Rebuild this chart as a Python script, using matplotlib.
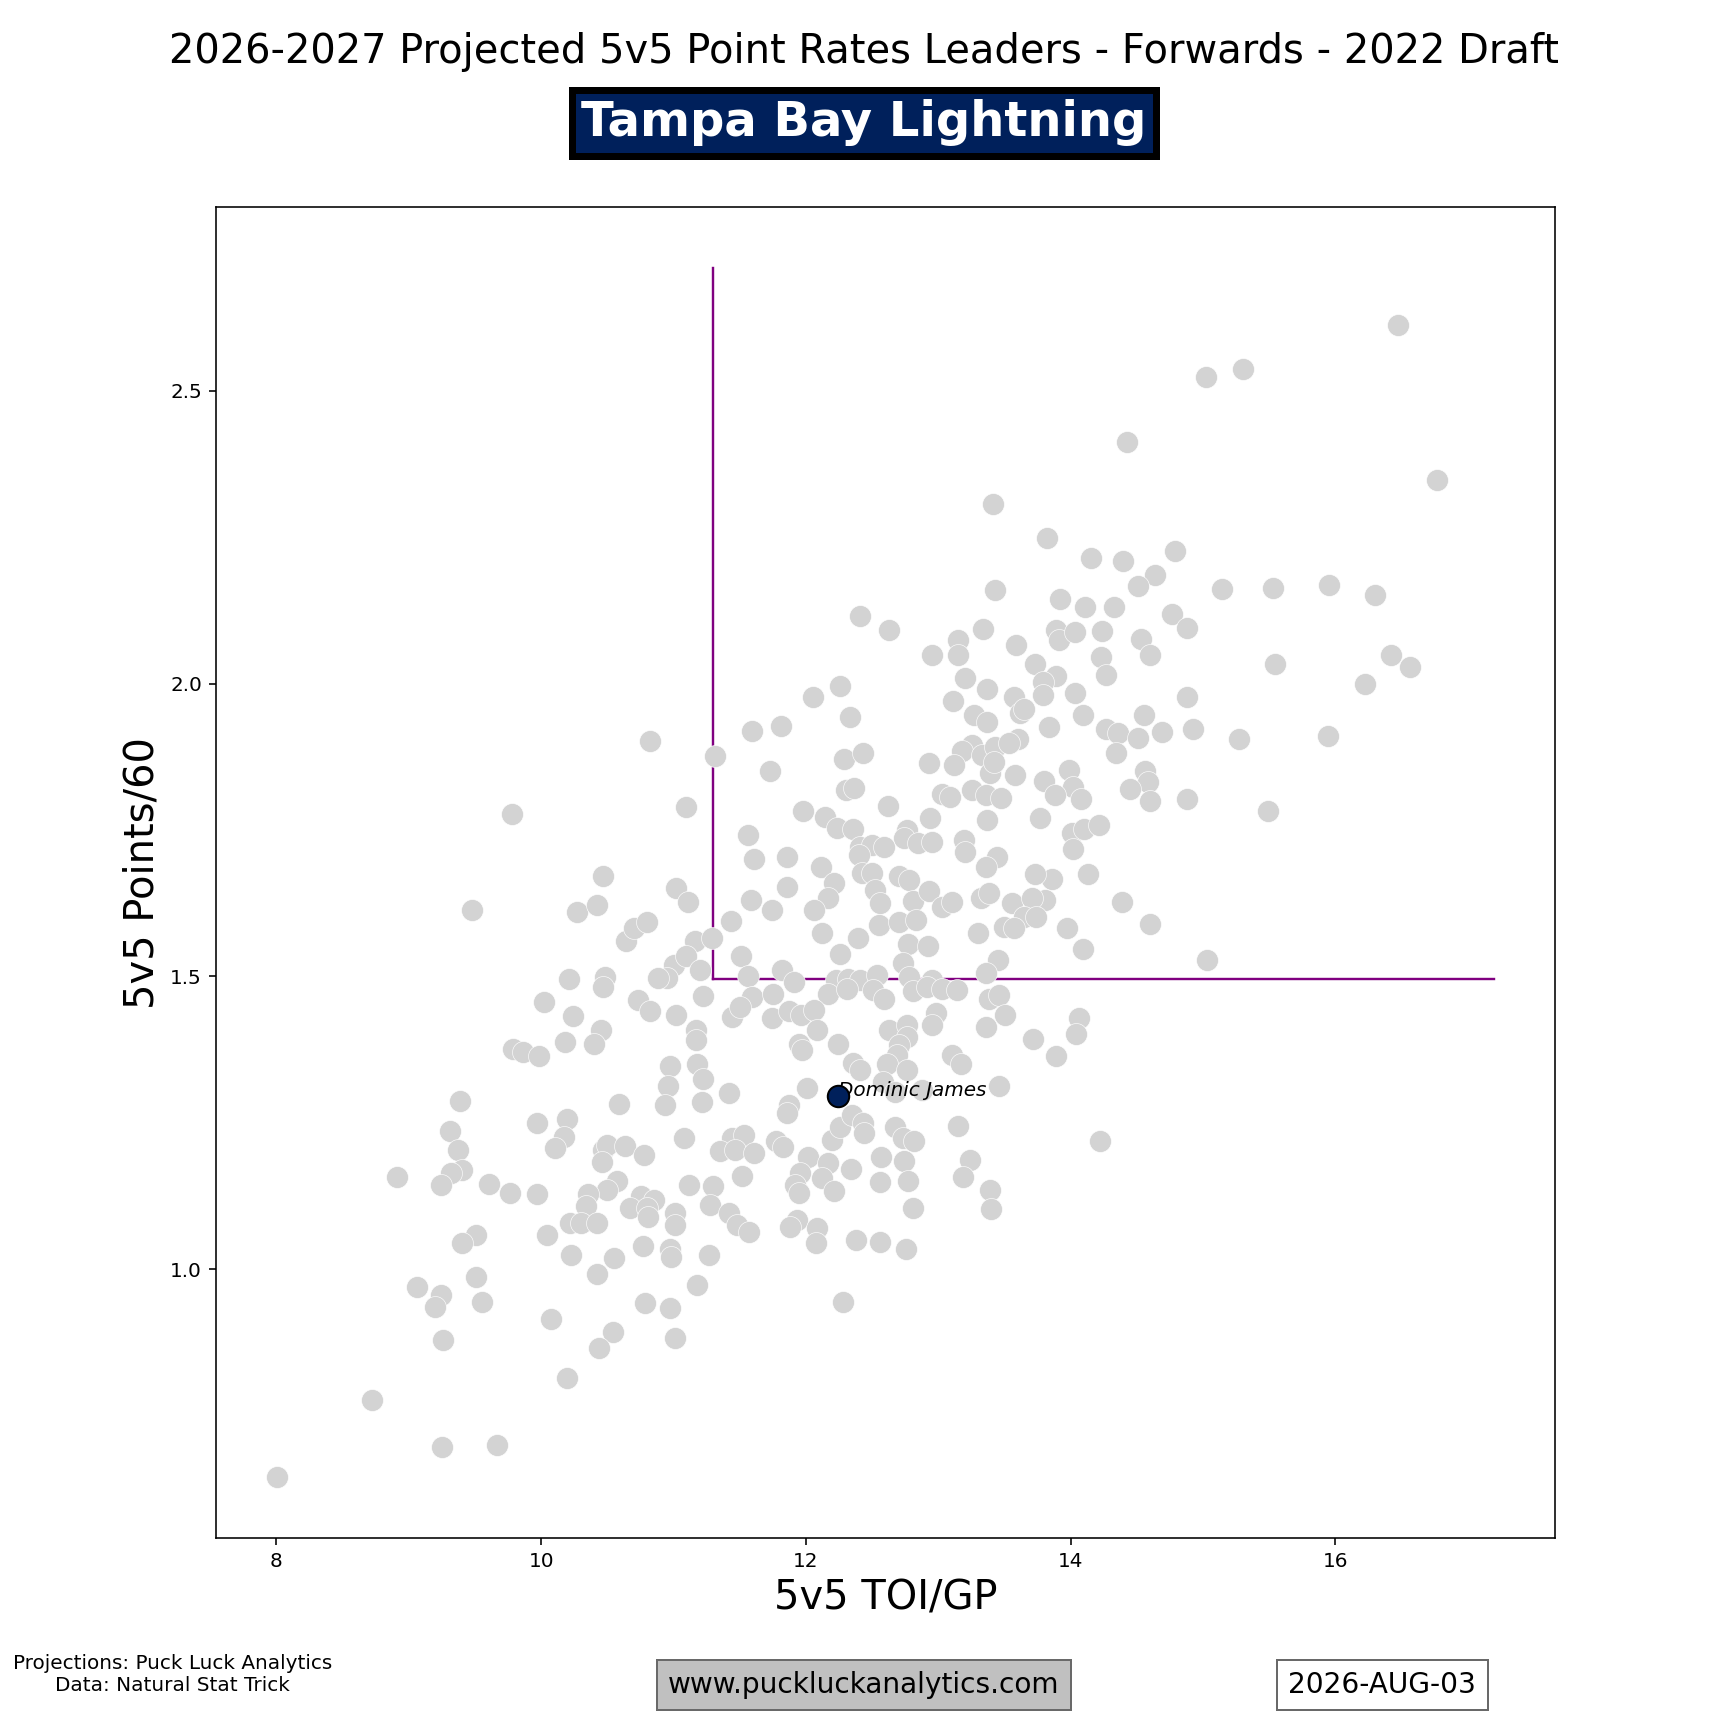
import numpy as np
import matplotlib
matplotlib.use('Agg')
import matplotlib.pyplot as plt


# League forwards: 5v5 TOI/GP and projected 5v5 Points/60
toi = [
    13.41, 13.43, 12.405, 12.63, 13.15, 13.34, 12.95, 13.15, 13.59, 13.73, 13.205, 13.37, 12.26, 12.05, 13.11, 13.57,
    16.47, 15.02, 15.30, 14.425, 16.77, 13.82, 14.15, 14.395, 14.79, 14.64, 14.51, 15.14, 15.53, 15.95, 16.30, 13.92,
    14.11, 14.33, 14.765, 14.88, 13.89, 13.91, 14.03, 14.24, 14.53, 14.60, 14.23, 14.27, 15.545, 16.42, 16.56, 16.22,
    13.89, 13.79, 13.79, 14.03, 14.88,
    14.09, 13.835, 14.27, 14.36, 14.55, 14.51, 14.69, 14.92, 15.27, 15.945, 14.34, 13.99, 13.80, 14.02, 13.88, 14.075,
    14.56, 14.58, 14.45, 14.60, 14.88, 15.49, 13.77, 14.01, 14.10, 14.21, 14.02, 13.855, 14.13, 13.805, 14.39, 13.97,
    14.60, 14.09, 15.03, 14.06, 14.04, 13.89,
    12.335, 11.59, 11.81, 13.27, 13.37, 13.62, 13.65, 11.31, 11.725, 12.285, 12.43, 12.93, 13.255, 13.18, 13.33, 13.12,
    13.43, 13.60, 13.53, 13.39, 13.42, 13.58, 12.30, 12.36, 13.03, 13.09, 13.255, 13.36, 13.47, 13.37, 11.09, 12.62,
    11.975, 12.14, 12.235, 12.355, 12.94, 12.764, 11.56, 12.74, 12.85, 12.95, 13.19, 13.205, 12.41, 12.50, 12.59, 12.40,
    11.61, 11.86, 13.44, 13.36, 12.11, 12.21, 12.42, 12.50, 12.70, 12.78, 13.73, 11.02, 11.11, 11.856, 11.584, 11.747,
    12.17, 12.06, 12.52, 12.56, 12.81, 12.93, 13.03, 13.10, 13.32, 13.38, 13.56, 13.71, 13.65, 13.74, 13.495, 13.575,
    11.43, 12.55, 12.70, 12.83, 13.30, 12.12, 12.39, 11.16, 11.29, 12.77, 12.92, 12.26, 11.51, 11.00, 11.09, 11.20,
    10.95, 12.73, 13.45, 13.36, 11.56, 11.82, 11.91, 12.23, 12.32, 12.41, 12.54, 12.78, 12.95, 11.22, 11.59, 11.75,
    12.17, 12.31, 12.51, 12.59, 12.81, 12.915, 13.03, 13.14, 13.38, 13.46, 11.02, 11.44, 11.50, 11.74, 11.87, 11.96,
    12.06, 12.08, 11.17, 11.17, 13.50, 13.36, 12.98, 12.95, 12.625, 12.76, 12.76, 12.70, 12.69, 13.715, 11.95, 11.97,
    12.24, 13.10, 13.17, 12.355, 12.41, 12.61, 12.76, 10.97, 11.175, 11.22, 11.42, 12.01, 12.58, 12.67, 12.875, 13.46,
    10.96,
    10.825, 9.781, 10.47, 9.478, 10.27, 10.42, 10.64, 10.70, 10.80, 10.21, 10.485, 10.47, 10.88, 10.02, 10.73, 10.825,
    10.24, 10.45, 10.40, 10.18, 9.79, 9.86, 9.985,
    9.387, 10.588, 10.935, 9.97, 10.195, 10.17, 10.106, 9.312, 9.372, 9.398, 9.32, 9.24, 8.91, 9.607, 9.766, 9.97,
    10.47, 10.50, 10.46, 10.63, 10.78, 10.57, 10.50, 10.355, 10.34, 10.22, 10.30, 10.42, 10.75, 10.85, 10.67, 10.80,
    10.81, 11.01, 11.01, 9.508, 9.40, 10.04, 10.227, 10.55, 10.77, 10.97, 10.98, 10.424, 9.508, 9.062, 9.24, 9.198,
    9.554, 9.259, 10.076, 10.787, 10.97, 11.01, 10.545, 10.44, 10.197, 8.722, 9.251, 9.667, 8.003,
    11.216, 11.87, 11.86, 11.08, 11.44, 11.53, 11.347, 11.466, 11.605, 11.77, 11.83, 11.52, 11.117, 11.294, 11.277, 11.415,
    11.478, 11.571, 11.27, 11.18, 12.013, 11.952, 11.92, 11.95, 12.17, 12.12, 12.215, 12.20, 12.26, 12.348, 12.43, 12.436,
    12.34, 12.57, 12.558, 12.676, 12.73, 12.815, 12.737, 12.774, 12.807, 13.15, 13.236, 13.185, 13.39, 13.394, 14.22, 11.93,
    11.88, 12.08, 12.078, 12.38, 12.557, 12.754, 12.278,
]
pts60 = [
    2.306, 2.159, 2.115, 2.091, 2.074, 2.093, 2.048, 2.048, 2.065, 2.034, 2.010, 1.991, 1.995, 1.977, 1.970, 1.977,
    2.612, 2.523, 2.537, 2.412, 2.347, 2.248, 2.214, 2.209, 2.226, 2.186, 2.166, 2.161, 2.164, 2.168, 2.152, 2.144,
    2.131, 2.131, 2.119, 2.094, 2.091, 2.074, 2.088, 2.090, 2.076, 2.048, 2.045, 2.014, 2.033, 2.048, 2.028, 2.000,
    2.013, 2.003, 1.980, 1.983, 1.977,
    1.946, 1.925, 1.922, 1.915, 1.946, 1.907, 1.917, 1.922, 1.905, 1.910, 1.881, 1.853, 1.833, 1.824, 1.809, 1.803,
    1.851, 1.832, 1.820, 1.800, 1.802, 1.782, 1.770, 1.744, 1.751, 1.758, 1.717, 1.666, 1.674, 1.630, 1.626, 1.582,
    1.589, 1.546, 1.528, 1.429, 1.401, 1.363,
    1.942, 1.919, 1.927, 1.946, 1.935, 1.949, 1.957, 1.876, 1.850, 1.871, 1.882, 1.864, 1.895, 1.884, 1.878, 1.861,
    1.892, 1.906, 1.898, 1.847, 1.866, 1.844, 1.818, 1.821, 1.812, 1.807, 1.818, 1.810, 1.804, 1.767, 1.789, 1.790,
    1.782, 1.772, 1.754, 1.752, 1.771, 1.750, 1.742, 1.736, 1.727, 1.730, 1.733, 1.713, 1.721, 1.724, 1.720, 1.707,
    1.701, 1.703, 1.704, 1.687, 1.686, 1.660, 1.676, 1.676, 1.672, 1.664, 1.675, 1.650, 1.627, 1.653, 1.631, 1.614,
    1.633, 1.613, 1.647, 1.625, 1.628, 1.646, 1.619, 1.627, 1.633, 1.642, 1.625, 1.633, 1.602, 1.602, 1.585, 1.582,
    1.594, 1.588, 1.592, 1.596, 1.574, 1.574, 1.565, 1.561, 1.565, 1.555, 1.552, 1.538, 1.535, 1.519, 1.534, 1.511,
    1.497, 1.522, 1.528, 1.505, 1.500, 1.511, 1.491, 1.494, 1.496, 1.494, 1.502, 1.499, 1.494, 1.466, 1.465, 1.469,
    1.470, 1.479, 1.477, 1.462, 1.474, 1.482, 1.479, 1.477, 1.462, 1.468, 1.434, 1.431, 1.448, 1.428, 1.441, 1.434,
    1.442, 1.408, 1.408, 1.391, 1.433, 1.414, 1.437, 1.417, 1.408, 1.417, 1.397, 1.383, 1.366, 1.393, 1.385, 1.374,
    1.384, 1.365, 1.351, 1.352, 1.340, 1.351, 1.340, 1.346, 1.351, 1.325, 1.300, 1.310, 1.320, 1.302, 1.305, 1.312,
    1.312,
    1.901, 1.777, 1.672, 1.613, 1.609, 1.621, 1.560, 1.582, 1.592, 1.495, 1.499, 1.482, 1.497, 1.456, 1.460, 1.440,
    1.432, 1.408, 1.384, 1.388, 1.375, 1.370, 1.363,
    1.287, 1.281, 1.280, 1.249, 1.257, 1.226, 1.207, 1.235, 1.203, 1.169, 1.164, 1.143, 1.158, 1.146, 1.129, 1.128,
    1.203, 1.212, 1.182, 1.210, 1.194, 1.151, 1.135, 1.128, 1.107, 1.078, 1.078, 1.078, 1.124, 1.118, 1.104, 1.104,
    1.088, 1.095, 1.075, 1.058, 1.044, 1.058, 1.024, 1.018, 1.039, 1.035, 1.021, 0.991, 0.987, 0.969, 0.956, 0.935,
    0.943, 0.878, 0.914, 0.942, 0.933, 0.883, 0.892, 0.865, 0.813, 0.776, 0.696, 0.699, 0.644,
    1.285, 1.280, 1.266, 1.223, 1.223, 1.229, 1.201, 1.203, 1.198, 1.218, 1.209, 1.159, 1.144, 1.142, 1.109, 1.095,
    1.075, 1.063, 1.024, 0.972, 1.192, 1.164, 1.144, 1.129, 1.181, 1.155, 1.133, 1.220, 1.243, 1.263, 1.249, 1.232,
    1.171, 1.191, 1.148, 1.242, 1.223, 1.219, 1.185, 1.150, 1.105, 1.245, 1.186, 1.157, 1.135, 1.103, 1.218, 1.084,
    1.072, 1.070, 1.044, 1.049, 1.046, 1.034, 0.944,
]

# Highlighted team prospect
player_name = 'Dominic James'
player_toi = 12.242
player_pts = 1.296

# Leader threshold lines
toi_cut = 11.3
pts_cut = 1.495
toi_line_end = 17.2
pts_line_end = 2.71

team = 'Tampa Bay Lightning'
team_color = '#00205B'
title = '2026-2027 Projected 5v5 Point Rates Leaders - Forwards - 2022 Draft'


fig, ax = plt.subplots(figsize=(12, 12), dpi=144)

ax.scatter(toi, pts60, s=120, c='lightgrey', edgecolors='white', linewidths=0.3, zorder=2)

ax.plot([toi_cut, toi_cut], [pts_cut, pts_line_end], color='purple', lw=1.2, zorder=1)
ax.plot([toi_cut, toi_line_end], [pts_cut, pts_cut], color='purple', lw=1.2, zorder=1)

ax.text(player_toi, player_pts, player_name, fontsize=10, style='italic', zorder=3)
ax.scatter([player_toi], [player_pts], s=115, c=team_color, edgecolors='black', linewidths=1, zorder=4)

ax.set_xlabel('5v5 TOI/GP', fontsize=20)
ax.set_ylabel('5v5 Points/60', fontsize=20)
ax.set_xticks([8, 10, 12, 14, 16])
ax.set_yticks([1.0, 1.5, 2.0, 2.5])

# Header
fig.text(0.5, 0.97, title, ha='center', va='center', fontsize=20)
fig.text(0.5, 0.929, team, ha='center', va='center', fontsize=24, fontweight='bold', color='white',
         bbox=dict(boxstyle='square,pad=0.2', facecolor=team_color, edgecolor='black', linewidth=3.5))

# Footer
fig.text(0.1, 0.031, 'Projections: Puck Luck Analytics\nData: Natural Stat Trick',
         ha='center', va='center', fontsize=10, multialignment='center')
fig.text(0.5, 0.025, 'www.puckluckanalytics.com', ha='center', va='center', fontsize=14,
         bbox=dict(boxstyle='square,pad=0.4', facecolor='silver', edgecolor='dimgrey', linewidth=1))
fig.text(0.8, 0.025, '2026-AUG-03', ha='center', va='center', fontsize=14,
         bbox=dict(boxstyle='square,pad=0.4', facecolor='white', edgecolor='dimgrey', linewidth=1))

fig.savefig('out.png', dpi=144)
